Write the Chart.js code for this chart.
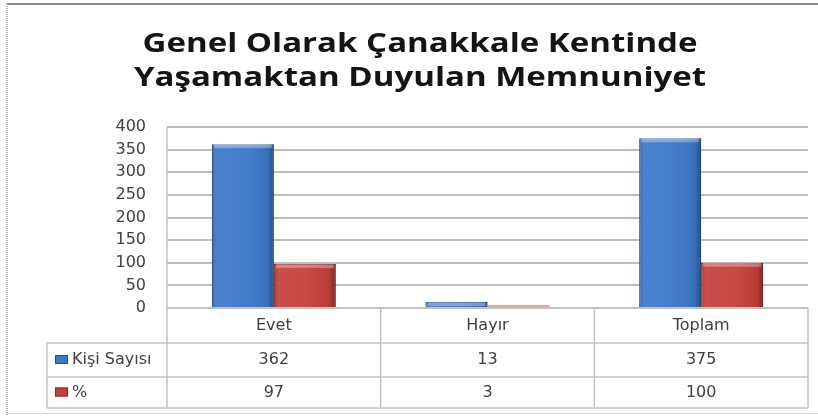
<!DOCTYPE html>
<html>
<head>
<meta charset="utf-8">
<script src="https://cdn.jsdelivr.net/npm/chart.js@4.4.0/dist/chart.umd.min.js"></script>
<style>
  html, body { margin: 0; padding: 0; background: #fff; }
  canvas { display: block; }
</style>
</head>
<body>
<canvas id="chart" width="818" height="416"></canvas>
<script>
// veriler
const titleLines = ['Genel Olarak Çanakkale Kentinde', 'Yaşamaktan Duyulan Memnuniyet'];
const categories = ['Evet', 'Hayır', 'Toplam'];
const seriesNames = ['Kişi Sayısı', '%'];
const kisiSayisi = [362, 13, 375];
const yuzde = [97, 3, 100];
const yTicks = [0, 50, 100, 150, 200, 250, 300, 350, 400];

const seriesColors = ['#3b78c9', '#c63f3b'];
const seriesDark = ['#1f4f8e', '#8a2522'];
const TITLE_FONT = '"Open Sans", Lato, sans-serif';
const TEXT_FONT = '"DejaVu Sans", sans-serif';
const TEXT_COLOR = '#404040';

// cerceve + baslik
const framePlugin = {
    id: 'frame',
    beforeDraw: function(chart) {
        const ctx = chart.ctx;
        ctx.save();
        ctx.fillStyle = '#fff';
        ctx.fillRect(0, 0, chart.width, chart.height);
        ctx.strokeStyle = '#8c8c8c';
        ctx.lineWidth = 2;
        ctx.beginPath();
        ctx.moveTo(7, 4); ctx.lineTo(chart.width, 4);
        ctx.stroke();
        ctx.strokeStyle = '#b0b0b0';
        ctx.setLineDash([1, 1]);
        ctx.beginPath();
        ctx.moveTo(7, 4); ctx.lineTo(7, chart.height);
        ctx.stroke();
        ctx.setLineDash([]);
        ctx.strokeStyle = '#d8d8d8';
        ctx.lineWidth = 1;
        ctx.beginPath();
        ctx.moveTo(7, 413.5); ctx.lineTo(chart.width, 413.5);
        ctx.stroke();

        // baslik: yatayda biraz genis
        ctx.fillStyle = '#141414';
        ctx.font = 'bold 27px ' + TITLE_FONT;
        ctx.textAlign = 'center';
        ctx.textBaseline = 'alphabetic';
        const w0 = ctx.measureText(titleLines[0]).width;
        const sx = 555 / w0;
        titleLines.forEach((t, i) => {
            ctx.save();
            ctx.translate(420, 52 + i * 34);
            ctx.scale(sx, 1);
            ctx.fillText(t, 0, 0);
            ctx.restore();
        });
        ctx.restore();
    }
};

// barlara hafif 3B gorunum
const shadePlugin = {
    id: 'shade',
    afterDatasetsDraw: function(chart) {
        const ctx = chart.ctx;
        ctx.save();
        chart.data.datasets.forEach((ds, di) => {
            chart.getDatasetMeta(di).data.forEach(bar => {
                const left = bar.x - bar.width / 2;
                const top = Math.min(bar.y, bar.base);
                const h = Math.abs(bar.base - bar.y);
                if (h < 3) {
                    // cok ince bar: soluk bir cizgi
                    ctx.fillStyle = di === 0 ? 'rgba(59,120,201,0.8)' : 'rgba(198,63,59,0.45)';
                    ctx.fillRect(left, bar.base - 2, bar.width, 2);
                    return;
                }
                const g = ctx.createLinearGradient(left, 0, left + bar.width, 0);
                g.addColorStop(0, 'rgba(0,0,0,0.18)');
                g.addColorStop(0.08, 'rgba(255,255,255,0.08)');
                g.addColorStop(0.5, 'rgba(255,255,255,0.05)');
                g.addColorStop(0.9, 'rgba(0,0,0,0.08)');
                g.addColorStop(1, 'rgba(0,0,0,0.35)');
                ctx.fillStyle = g;
                ctx.fillRect(left, top, bar.width, h);
                ctx.fillStyle = 'rgba(255,255,255,0.3)';
                ctx.fillRect(left + 2, top, bar.width - 4, Math.min(4, h));
            });
        });
        ctx.restore();
    }
};

// veri tablosu
const tablePlugin = {
    id: 'dataTable',
    afterDraw: function(chart) {
        const ctx = chart.ctx;
        const a = chart.chartArea;
        const x = chart.scales.x;
        const half = (a.right - a.left) / categories.length / 2;
        const rows = [a.bottom, a.bottom + 35, a.bottom + 69, a.bottom + 100];
        const legendLeft = 47;
        const rowsData = [kisiSayisi, yuzde];

        ctx.save();
        ctx.strokeStyle = '#c4c4c4';
        ctx.lineWidth = 1.5;
        ctx.beginPath();
        ctx.moveTo(a.left, rows[0]); ctx.lineTo(a.right, rows[0]);
        for (let r = 1; r < rows.length; r++) {
            ctx.moveTo(legendLeft, rows[r]); ctx.lineTo(a.right, rows[r]);
        }
        ctx.moveTo(a.left, a.top); ctx.lineTo(a.left, rows[3]);
        ctx.moveTo(legendLeft, rows[1]); ctx.lineTo(legendLeft, rows[3]);
        categories.forEach((c, i) => {
            const xr = x.getPixelForValue(i) + half;
            ctx.moveTo(xr, rows[0]); ctx.lineTo(xr, rows[3]);
        });
        ctx.stroke();

        ctx.fillStyle = TEXT_COLOR;
        ctx.font = '16px ' + TEXT_FONT;
        ctx.textAlign = 'center';
        ctx.textBaseline = 'middle';
        categories.forEach((c, i) => {
            const cx = x.getPixelForValue(i);
            ctx.fillText(c, cx, (rows[0] + rows[1]) / 2);
            rowsData.forEach((vals, r) => {
                ctx.fillText(String(vals[i]), cx, (rows[r + 1] + rows[r + 2]) / 2);
            });
        });

        ctx.textAlign = 'left';
        seriesNames.forEach((name, r) => {
            const cy = (rows[r + 1] + rows[r + 2]) / 2;
            ctx.fillStyle = seriesColors[r];
            ctx.fillRect(55, cy - 5, 13, 9);
            ctx.strokeStyle = seriesDark[r];
            ctx.lineWidth = 1;
            ctx.strokeRect(55.5, cy - 4.5, 12, 8);
            ctx.fillStyle = TEXT_COLOR;
            ctx.fillText(name, 72, cy);
        });
        ctx.restore();
    }
};

new Chart(document.getElementById('chart'), {
    type: 'bar',
    data: {
        labels: categories,
        datasets: [
            { label: seriesNames[0], data: kisiSayisi, backgroundColor: seriesColors[0], borderColor: seriesDark[0], borderWidth: 1 },
            { label: seriesNames[1], data: yuzde, backgroundColor: seriesColors[1], borderColor: seriesDark[1], borderWidth: 1 }
        ]
    },
    options: {
        responsive: false,
        animation: false,
        layout: { padding: { top: 127, right: 10, bottom: 108, left: 0 } },
        datasets: { bar: { categoryPercentage: 0.58, barPercentage: 1 } },
        plugins: { legend: { display: false }, title: { display: false }, tooltip: { enabled: false } },
        scales: {
            x: { display: false },
            y: {
                min: 0,
                max: 400,
                afterFit: function(scale) { scale.width = 167; },
                afterBuildTicks: function(scale) { scale.ticks = yTicks.map(v => ({ value: v })); },
                ticks: { color: TEXT_COLOR, padding: 21, font: { family: TEXT_FONT, size: 16 } },
                grid: { color: '#bdbdbd', lineWidth: 2, drawTicks: false },
                border: { display: false }
            }
        }
    },
    plugins: [framePlugin, shadePlugin, tablePlugin]
});
</script>
</body>
</html>
